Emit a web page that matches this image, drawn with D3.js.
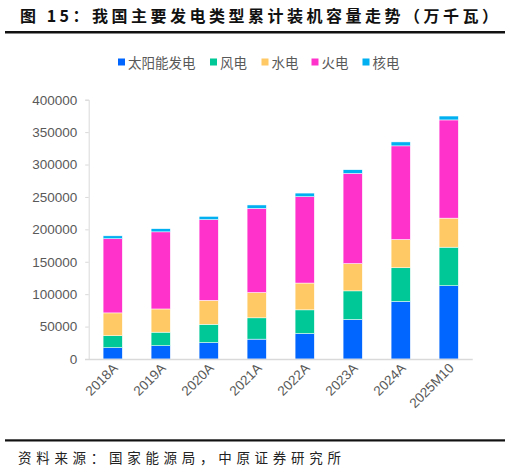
<!DOCTYPE html>
<html>
<head>
<meta charset="utf-8">
<script src="https://cdn.jsdelivr.net/npm/d3@7"></script>
<style>
  body { margin: 0; background: #fff; }
  svg { display: block; }
</style>
</head>
<body>
<div id="chart"></div>
<script>
// categories and series (万千瓦)
const years = ["2018A", "2019A", "2020A", "2021A", "2022A", "2023A", "2024A", "2025M10"];
const solar   = [17463, 20468, 25343, 30656, 39261, 60949, 88666, 113000];
const wind    = [18426, 20915, 28153, 32848, 36544, 44134, 52068, 59500];
const hydro   = [35226, 35804, 37016, 39092, 41350, 42154, 43595, 44800];
const thermal = [114408, 118957, 124517, 129678, 133239, 139032, 144445, 151500];
const nuclear = [4466, 4874, 4989, 5326, 5553, 5691, 6083, 6000];
const seriesNames = ["太阳能发电", "风电", "水电", "火电", "核电"];
const yTicks = [0, 50000, 100000, 150000, 200000, 250000, 300000, 350000, 400000];

const colors = ["#0066FF", "#00C896", "#FFCA66", "#FF33CC", "#00B0F0"];

const W = 511, H = 472;
const svg = d3.select("#chart").append("svg")
    .attr("width", W)
    .attr("height", H);

const cjk = "'Noto Sans CJK SC', sans-serif";
const latin = "'Liberation Sans', Arial, sans-serif";

// title
svg.append("text")
    .attr("x", 20)
    .attr("y", 22)
    .style("font-family", cjk)
    .style("font-weight", "bold")
    .style("font-size", "16px")
    .style("letter-spacing", "3.5px")
    .style("fill", "#111")
    .text("图 15：我国主要发电类型累计装机容量走势（万千瓦）");

svg.append("rect").attr("x", 5).attr("y", 31).attr("width", 500).attr("height", 2.5).attr("fill", "#111");

// data table for stacking
const table = years.map((y, i) => ({
    year: y, s0: solar[i], s1: wind[i], s2: hydro[i], s3: thermal[i], s4: nuclear[i]
}));
const keys = ["s0", "s1", "s2", "s3", "s4"];
const stacked = d3.stack().keys(keys)(table);

const x = d3.scaleBand().domain(years).range([88.7, 472.7]).paddingInner(0.6).paddingOuter(0.3);
const y = d3.scaleLinear().domain([0, 400000]).range([359, 99.7]);

// y axis
const yAxis = svg.append("g")
    .attr("transform", "translate(88.7,0)")
    .call(d3.axisLeft(y).tickValues(yTicks).tickSize(3.5).tickPadding(8).tickFormat(d3.format("d")));
yAxis.select(".domain").attr("stroke", "#d9d9d9");
yAxis.selectAll(".tick line").attr("stroke", "#d9d9d9");
yAxis.selectAll("text")
    .style("font-family", latin)
    .style("font-size", "13.5px")
    .style("fill", "#595959");

// bars
svg.append("g").selectAll("g")
    .data(stacked)
    .join("g")
    .attr("fill", (d, i) => colors[i])
    .selectAll("rect")
    .data(d => d)
    .join("rect")
    .attr("x", d => x(d.data.year))
    .attr("width", x.bandwidth())
    .attr("y", d => y(d[1]))
    .attr("height", d => y(d[0]) - y(d[1]))
    .attr("stroke", "#fff")
    .attr("stroke-width", 0.5);

// x axis
const xAxis = svg.append("g")
    .attr("transform", "translate(0,359)")
    .call(d3.axisBottom(x).tickSize(0).tickPadding(0));
xAxis.select(".domain").attr("d", "M85,0.5H472.7").attr("stroke", "#d9d9d9").attr("stroke-width", 1.5);
xAxis.selectAll("text")
    .attr("text-anchor", "end")
    .attr("dy", 0)
    .attr("transform", "translate(6,10) rotate(-45)")
    .style("font-family", latin)
    .style("font-size", "13.5px")
    .style("fill", "#595959");

// legend
const legendX = [118, 210, 261.5, 311.5, 362.5];
const legend = svg.append("g").selectAll("g")
    .data(seriesNames)
    .join("g")
    .attr("transform", (d, i) => `translate(${legendX[i]},63)`);
legend.append("rect")
    .attr("x", 0).attr("y", -4.5)
    .attr("width", 7).attr("height", 7)
    .attr("fill", (d, i) => colors[i]);
legend.append("text")
    .attr("x", 10)
    .attr("y", 5)
    .style("font-family", cjk)
    .style("font-size", "13.5px")
    .style("fill", "#595959")
    .text(d => d);

// source
svg.append("rect").attr("x", 5).attr("y", 439.3).attr("width", 500).attr("height", 2.2).attr("fill", "#111");
svg.append("text")
    .attr("x", 18)
    .attr("y", 463)
    .style("font-family", cjk)
    .style("font-size", "13.5px")
    .style("letter-spacing", "4.7px")
    .style("fill", "#222")
    .text("资料来源：国家能源局，中原证券研究所");
</script>
</body>
</html>
